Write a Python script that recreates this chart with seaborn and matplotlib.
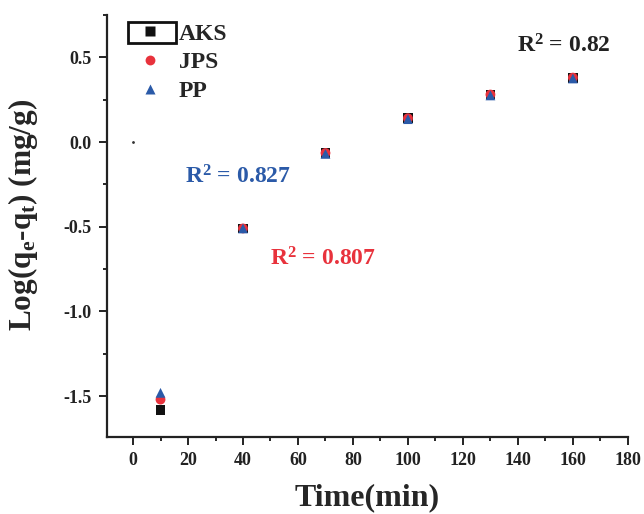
import matplotlib
matplotlib.use("Agg")
import matplotlib.pyplot as plt
import seaborn as sns
import pandas as pd
from matplotlib.ticker import MultipleLocator
from matplotlib.patches import Rectangle

time = [10, 40, 70, 100, 130, 160]
aks = [-1.58, -0.51, -0.065, 0.14, 0.28, 0.38]
jps = [-1.52, -0.51, -0.065, 0.14, 0.28, 0.38]
pp = [-1.48, -0.51, -0.07, 0.135, 0.275, 0.375]
series = ["AKS", "JPS", "PP"]
colors = {"AKS": "#111111", "JPS": "#e8323c", "PP": "#2b5aa8"}
markers = {"AKS": "s", "JPS": "o", "PP": "^"}

df = pd.DataFrame({
    "Time": time * 3,
    "Log": aks + jps + pp,
    "Sample": ["AKS"] * 6 + ["JPS"] * 6 + ["PP"] * 6,
})

sns.set_style("ticks")
plt.rcParams['font.family'] = ['Liberation Serif', 'DejaVu Serif']
plt.rcParams['font.weight'] = 'bold'
plt.rcParams['mathtext.fontset'] = 'custom'
plt.rcParams['mathtext.rm'] = 'Liberation Serif:bold'
plt.rcParams['mathtext.bf'] = 'Liberation Serif:bold'
plt.rcParams['mathtext.it'] = 'Liberation Serif:bold'

fig = plt.figure(figsize=(6.44, 5.14), dpi=100)
ax = fig.add_axes([0.166, 0.150, 0.809, 0.821])

sns.scatterplot(data=df, x="Time", y="Log", hue="Sample", style="Sample",
                palette=colors, markers=markers, hue_order=series, style_order=series,
                s=50, edgecolor="none", ax=ax, zorder=3)

ax.plot([0], [0], marker='.', color='#333333', markersize=2, linestyle='none')

ax.set_xlim(-9.5, 180)
ax.set_ylim(-1.74, 0.75)
ax.xaxis.set_major_locator(MultipleLocator(20))
ax.xaxis.set_minor_locator(MultipleLocator(10))
ax.yaxis.set_major_locator(MultipleLocator(0.5))
ax.yaxis.set_minor_locator(MultipleLocator(0.25))
ax.set_yticks([-1.5, -1.0, -0.5, 0.0, 0.5])
ax.set_yticklabels(["-1.5", "-1.0", "-0.5", "0.0", "0.5"])
ax.tick_params(axis='both', which='major', direction='out', length=6, width=1.4,
               labelsize=13, colors='#222222', pad=5)
ax.tick_params(axis='both', which='minor', direction='out', length=3, width=1.4)
for lab in ax.get_xticklabels() + ax.get_yticklabels():
    lab.set_fontweight('bold')
for sp in ['left', 'bottom']:
    ax.spines[sp].set_linewidth(1.6)
    ax.spines[sp].set_color('#222222')
ax.spines['top'].set_visible(False)
ax.spines['right'].set_visible(False)

ax.set_xlabel("Time(min)", fontsize=23, fontweight='bold', labelpad=10)
ax.set_ylabel(r"Log(q$_\mathrm{e}$-q$_\mathrm{t}$) (mg/g)", fontsize=22.5, fontweight='bold')
ax.yaxis.set_label_coords(-0.128, 0.526)

leg = ax.legend(loc='upper left', frameon=False, fontsize=17, handletextpad=0.2,
                borderaxespad=0.0, labelspacing=0.3, markerscale=1.0,
                bbox_to_anchor=(0.02, 1.003))
for t in leg.get_texts():
    t.set_fontweight('bold')

fig.patches.append(Rectangle((128 / 644, 1 - 43 / 514), 48 / 644, 21 / 514,
                             transform=fig.transFigure, fill=False,
                             edgecolor='#111111', linewidth=2.0))

ax.text(139.5, 0.53, r"R$^\mathrm{2}$ = 0.82", color="#222222", fontsize=17, fontweight='bold', ha='left', va='baseline')
ax.text(19, -0.242, r"R$^\mathrm{2}$ = 0.827", color="#2b5aa8", fontsize=17, fontweight='bold', ha='left', va='baseline')
ax.text(50, -0.726, r"R$^\mathrm{2}$ = 0.807", color="#e8323c", fontsize=17, fontweight='bold', ha='left', va='baseline')

fig.savefig("out.png", dpi=100)
